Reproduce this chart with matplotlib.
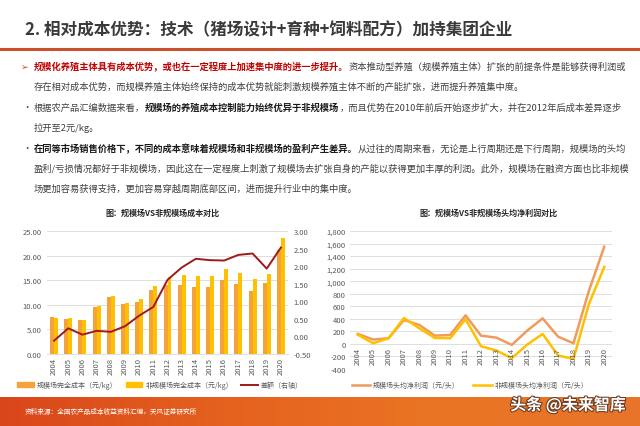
import matplotlib
matplotlib.use("Agg")
import matplotlib.pyplot as plt
import numpy as np
from matplotlib.patches import Patch
from matplotlib.lines import Line2D
import matplotlib.patheffects as pe
from matplotlib.colors import LinearSegmentedColormap

plt.rcParams['font.family'] = ['Noto Sans CJK SC', 'DejaVu Sans']
plt.rcParams['axes.unicode_minus'] = False

years = [str(y) for y in range(2004, 2021)]
scale_cost = [7.6, 7.2, 7.0, 9.6, 11.5, 10.2, 10.5, 13.1, 14.0, 14.0, 13.6, 13.6, 15.1, 14.2, 12.8, 14.4, 21.1]
nonscale_cost = [7.4, 7.4, 7.0, 9.8, 11.7, 10.4, 11.1, 13.9, 15.6, 16.0, 15.8, 15.8, 17.3, 16.5, 15.2, 16.3, 23.6]
cost_diff = [-0.12, 0.23, 0.05, 0.16, 0.13, 0.29, 0.59, 0.84, 1.61, 1.96, 2.21, 2.17, 2.16, 2.32, 2.36, 1.93, 2.53]
scale_profit = [160, 69, 90, 381, 302, 132, 143, 455, 132, 100, -16, 212, 407, 116, 10, 846, 1550]
nonscale_profit = [148, 10, 90, 413, 249, 95, 90, 392, -37, -106, -228, -11, 159, -185, -238, 635, 1227]

W, H = 640, 427
fig = plt.figure(figsize=(6.4, 4.27), dpi=100)
fig.patch.set_facecolor('white')

def fx(px):
    return px / W

def fy(py):
    return 1 - py / H

# Header
fig.text(fx(25), fy(30), "2. 相对成本优势：技术（猪场设计+育种+饲料配方）加持集团企业",
         fontsize=12, color='#3a3a3a', weight='bold', va='center', ha='left')
fig.add_artist(Line2D([0, 1], [fy(50), fy(50)], color='#C8502A', lw=2.2, transform=fig.transFigure))

renderer = fig.canvas.get_renderer()
FS = 6.7
RED = '#C00000'
GRAY = '#404040'
BLK = '#1a1a1a'

def draw_line(x, y, segs):
    for s, c, w in segs:
        t = fig.text(fx(x), fy(y), s, fontsize=FS, color=c, weight=w, va='center', ha='left')
        bb = t.get_window_extent(renderer)
        x += bb.width

# bullet 1
fig.text(fx(21), fy(67), "➢", fontsize=FS, color='#C8502A', va='center', ha='left', family=['DejaVu Sans'])
draw_line(34, 67, [("规模化养殖主体具有成本优势，或也在一定程度上加速集中度的进一步提升。", RED, 'bold'),
                   ("资本推动型养殖（规模养殖主体）扩张的前提条件是能够获得利润或", GRAY, 'normal')])
draw_line(34, 87, [("存在相对成本优势，而规模养殖主体始终保持的成本优势就能刺激规模养殖主体不断的产能扩张，进而提升养殖集中度。", GRAY, 'normal')])

# bullet 2
fig.text(fx(22), fy(108), "•", fontsize=FS, color=GRAY, va='center', ha='left')
draw_line(34, 108, [("根据农产品汇编数据来看，", GRAY, 'normal'),
                    ("规模场的养殖成本控制能力始终优异于非规模场", BLK, 'bold'),
                    ("，而且优势在2010年前后开始逐步扩大，并在2012年后成本差异逐步", GRAY, 'normal')])
draw_line(34, 128, [("拉开至2元/kg。", GRAY, 'normal')])

# bullet 3
fig.text(fx(22), fy(149), "•", fontsize=FS, color=GRAY, va='center', ha='left')
draw_line(34, 149, [("在同等市场销售价格下，不同的成本意味着规模场和非规模场的盈利产生差异。", BLK, 'bold'),
                    ("从过往的周期来看，无论是上行周期还是下行周期，规模场的头均", GRAY, 'normal')])
draw_line(34, 169, [("盈利/亏损情况都好于非规模场，因此这在一定程度上刺激了规模场去扩张自身的产能以获得更加丰厚的利润。此外，规模场在融资方面也比非规模", GRAY, 'normal')])
draw_line(34, 189, [("场更加容易获得支持，更加容易穿越周期底部区间，进而提升行业中的集中度。", GRAY, 'normal')])

# chart titles
fig.text(fx(162), fy(213), "图：规模场VS非规模场成本对比", fontsize=5.8, weight='bold',
         color='#262626', ha='center', va='center')
fig.text(fx(488), fy(213), "图：规模场VS非规模场头均净利润对比", fontsize=5.8, weight='bold',
         color='#262626', ha='center', va='center')

TICK = '#595959'
GRID = '#D9D9D9'
x = np.arange(len(years))

# Left chart
ax1 = fig.add_axes([fx(47), fy(355), fx(288) - fx(47), fy(232) - fy(355)])
bw = 0.28
ax1.bar(x - bw / 2, scale_cost, width=bw, color='#F4A33A', zorder=2)
ax1.bar(x + bw / 2, nonscale_cost, width=bw, color='#FFC000', zorder=2)
ax1.set_ylim(0, 25)
ax1.set_xlim(-0.5, len(years) - 0.5)
ax1.set_yticks(np.arange(0, 26, 5))
ax1.set_yticklabels([f"{v:.2f}" for v in np.arange(0, 26, 5)])
ax1.set_xticks(x)
ax1.set_xticklabels(years, rotation=90)
ax1.tick_params(axis='both', length=0, labelsize=5.5, labelcolor=TICK, pad=2)
ax1.tick_params(axis='y', pad=4)
ax1.grid(axis='y', color=GRID, lw=0.6, zorder=0)
for s in ['top', 'right', 'left']:
    ax1.spines[s].set_visible(False)
ax1.spines['bottom'].set_color(GRID)
ax1.spines['bottom'].set_linewidth(0.6)
ax2 = ax1.twinx()
ax2.plot(x, cost_diff, color='#9E1A1A', lw=1.4, zorder=3)
ax2.set_ylim(-0.5, 3.0)
ax2.set_yticks(np.arange(-0.5, 3.01, 0.5))
ax2.set_yticklabels([f"{v:.2f}" for v in np.arange(-0.5, 3.01, 0.5)])
ax2.tick_params(axis='y', length=0, labelsize=5.5, labelcolor=TICK, pad=4)
for s in ['top', 'right', 'left', 'bottom']:
    ax2.spines[s].set_visible(False)

h1 = [Patch(color='#F4A33A'), Patch(color='#FFC000'), Line2D([], [], color='#9E1A1A', lw=1.4)]
l1 = ["规模场完全成本（元/kg）", "非规模场完全成本（元/kg）", "差额（右轴）"]
fig.legend(h1, l1, loc='center', bbox_to_anchor=(fx(160), fy(386)), ncol=3, frameon=False,
           fontsize=5, labelcolor=TICK, handlelength=2.4, handleheight=0.6, columnspacing=1.2,
           handletextpad=0.4)

# Right chart
ax3 = fig.add_axes([fx(350), fy(370), fx(612) - fx(350), fy(232) - fy(370)])
ax3.plot(x, scale_profit, color='#EE9B5C', lw=1.8, zorder=3)
ax3.plot(x, nonscale_profit, color='#FFC000', lw=1.8, zorder=3)
ax3.set_ylim(-400, 1800)
ax3.set_xlim(-0.5, len(years) - 0.5)
yt = np.arange(-400, 1801, 200)
ax3.set_yticks(yt)
ax3.set_yticklabels([f"{v:,}" for v in yt])
ax3.set_xticks([])
ax3.tick_params(axis='y', length=0, labelsize=5.5, labelcolor=TICK, pad=3)
ax3.grid(axis='y', color=GRID, lw=0.6, zorder=0)
for s in ['top', 'right', 'left', 'bottom']:
    ax3.spines[s].set_visible(False)
for i, yr in enumerate(years):
    ax3.annotate(yr, (i, 0), xytext=(0, -2), textcoords='offset points', rotation=90,
                 ha='center', va='top', fontsize=5.5, color=TICK, zorder=4)

h2 = [Line2D([], [], color='#EE9B5C', lw=1.8), Line2D([], [], color='#FFC000', lw=1.8)]
l2 = ["规模场头均净利润（元/头）", "非规模场头均净利润（元/头）"]
fig.legend(h2, l2, loc='center', bbox_to_anchor=(fx(470), fy(386)), ncol=2, frameon=False,
           fontsize=5, labelcolor=TICK, handlelength=2.6, columnspacing=2.0, handletextpad=0.4)

# Footer band
axf = fig.add_axes([0, 0, 1, fy(398)])
grad = np.linspace(0, 1, 256).reshape(1, -1)
cmap = LinearSegmentedColormap.from_list('band', ['#D9461B', '#E4601E', '#EA7423', '#E8742A'])
axf.imshow(grad, aspect='auto', cmap=cmap, extent=[0, 1, 0, 1])
axf.set_axis_off()
fig.text(fx(25), fy(412), "资料来源：全国农产品成本收益资料汇编，天风证券研究所", fontsize=4.8,
         color='white', ha='left', va='center')
fig.text(fx(568), fy(406), "头条 @未来智库", fontsize=11.5, color='white', ha='center', va='center',
         weight='bold',
         path_effects=[pe.withStroke(linewidth=1.5, foreground='#6b3a20')])

fig.savefig('out.png', dpi=100, facecolor='white')
